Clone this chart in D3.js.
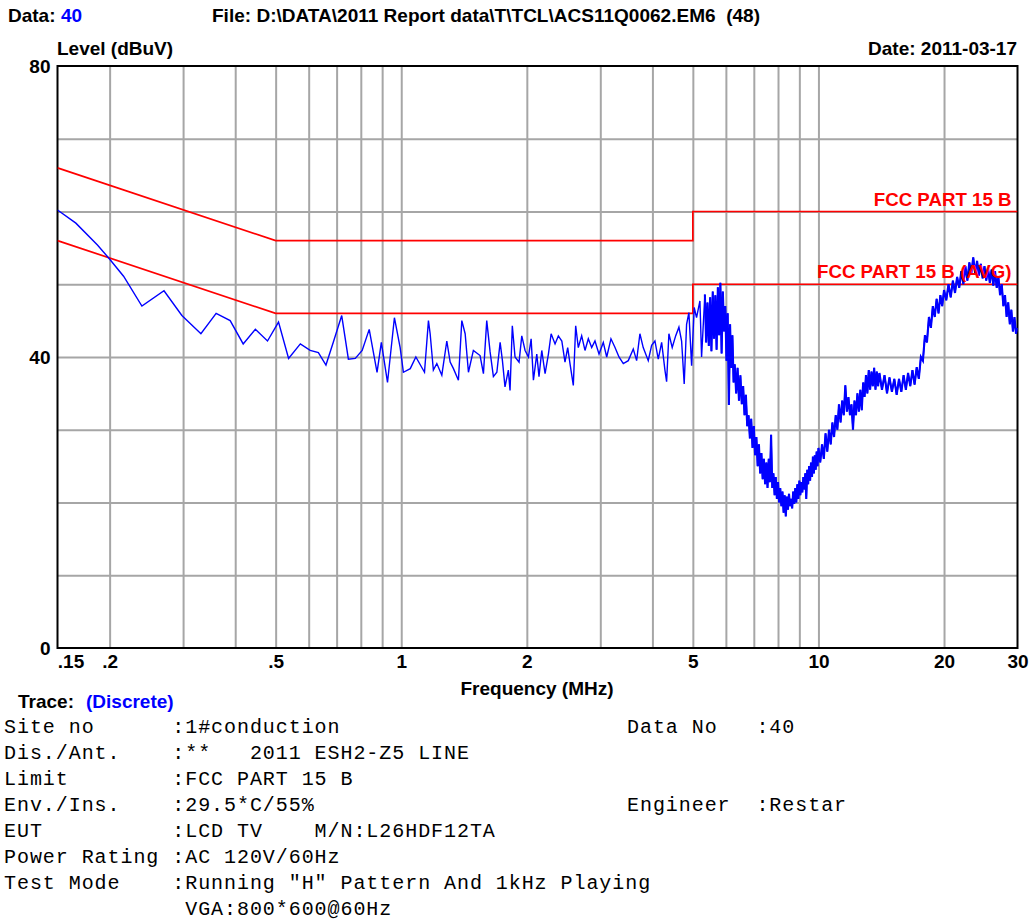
<!DOCTYPE html>
<html>
<head>
<meta charset="utf-8">
<script src="https://cdn.jsdelivr.net/npm/d3@7"></script>
<style>
  html, body { margin: 0; padding: 0; background: #fff; }
  svg text { font-family: "Liberation Sans", Arial, sans-serif; white-space: pre; }
  .mono { font-family: "Liberation Mono", "Courier New", monospace; white-space: pre; }
</style>
</head>
<body>
<svg id="chart" width="1035" height="921"></svg>
<script>
// ---------------- data ----------------
const xDomain = [0.15, 30];
const yDomain = [0, 80];
const xGridValues = [0.2, 0.3, 0.4, 0.5, 0.6, 0.7, 0.8, 0.9, 1, 2, 3, 4, 5, 6, 7, 8, 9, 10, 20];
const yGridValues = [10, 20, 30, 40, 50, 60, 70];
const xTickValues = [0.15, 0.2, 0.5, 1, 2, 5, 10, 20, 30];
const xTickLabels = [".15", ".2", ".5", "1", "2", "5", "10", "20", "30"];
const yTickValues = [0, 40, 80];
const yTickLabels = ["0", "40", "80"];

const limitQP = [[0.15, 66], [0.5, 56], [5, 56], [5, 60], [30, 60]];
const limitAV = [[0.15, 56], [0.5, 46], [5, 46], [5, 50], [30, 50]];
const limitLabels = [
  { text: "FCC PART 15 B", freq: 30, level: 60 },
  { text: "FCC PART 15 B (AVG)", freq: 30, level: 50 }
];

// measured trace [MHz, dBuV]
const traceLow = [
  [0.150,60.2],[0.166,58.4],[0.187,55.4],[0.199,53.6],[0.216,51.1],[0.239,47.0],[0.270,49.1],
  [0.298,45.7],[0.331,43.2],[0.360,46.0],[0.389,45.0],[0.418,41.8],[0.447,43.8],[0.478,42.2],
  [0.508,44.8],[0.537,39.8],[0.573,41.8],[0.605,40.9],[0.633,40.6],[0.660,38.9],[0.687,42.0],
  [0.720,45.7],[0.747,39.7],[0.776,39.8],[0.806,40.9],[0.838,43.8],[0.875,37.9],[0.896,42.0],
  [0.927,36.5],[0.963,45.4],[0.994,41.3]
];
const traceMid = [
  [1.012,37.9],[1.051,38.4],[1.084,40.0],[1.137,37.9],[1.162,45.0],[1.173,43.2],[1.194,38.2],
  [1.217,39.1],[1.251,37.5],[1.286,42.2],[1.310,39.3],[1.334,38.4],[1.371,36.8],[1.397,45.0],
  [1.423,43.2],[1.449,37.9],[1.489,40.9],[1.545,40.2],[1.574,37.7],[1.603,45.0],[1.633,40.7],
  [1.663,37.3],[1.695,37.9],[1.726,42.0],[1.748,39.5],[1.773,35.9],[1.806,38.2],[1.823,35.4],
  [1.846,44.3],[1.874,40.0],[1.916,39.3],[1.945,42.9],[1.981,40.9],[2.018,40.0],[2.048,42.5],
  [2.074,36.8],[2.113,40.4],[2.139,37.3],[2.172,40.9],[2.212,37.7],[2.253,40.4],[2.287,43.2],
  [2.337,41.8],[2.380,42.9],[2.426,42.2],[2.469,39.3],[2.506,41.3],[2.538,39.1],[2.585,36.1],
  [2.619,44.3],[2.657,41.3],[2.707,42.9],[2.757,40.9],[2.808,42.5],[2.861,41.3],[2.913,42.2],
  [2.979,40.4],[3.050,42.0],[3.108,40.0],[3.182,42.5],[3.254,41.3],[3.326,40.0],[3.406,39.1],
  [3.501,39.5],[3.599,41.1],[3.666,39.5],[3.733,43.2],[3.802,41.3],[3.909,39.5],[3.983,41.6],
  [4.056,42.2],[4.131,39.7],[4.209,42.0],[4.286,38.2],[4.326,36.6],[4.381,43.2],[4.462,41.3],
  [4.547,42.9],[4.630,44.1],[4.699,42.2],[4.767,36.3],[4.830,44.5],[4.892,46.1],[4.966,38.8],
  [5.037,46.8],[5.103,45.4],[5.199,47.7],[5.247,40.0],[5.343,48.6]
];
const traceHigh = [
  [5.38,42.0],[5.42,47.5],[5.46,41.5],[5.50,48.2],[5.54,40.8],[5.58,49.0],[5.62,42.5],[5.66,48.5],
  [5.70,41.0],[5.74,49.6],[5.78,43.0],[5.82,50.2],[5.86,40.5],[5.90,49.0],[5.94,43.5],[5.98,47.0],
  [6.02,39.5],[6.06,46.0],[6.10,33.4],[6.14,44.5],[6.18,38.5],[6.22,43.0],[6.26,36.5],[6.30,39.0],
  [6.35,35.0],[6.40,38.5],[6.45,34.0],[6.50,37.5],[6.55,33.5],[6.60,36.0],[6.65,32.0],[6.70,34.8],
  [6.75,30.5],[6.80,32.0],[6.85,28.8],[6.90,31.5],[6.95,27.5],[7.00,30.5],[7.05,26.5],[7.10,29.0],
  [7.15,25.0],[7.20,28.0],[7.25,24.0],[7.30,26.8],[7.35,23.2],[7.40,26.0],[7.45,22.5],[7.50,25.5],
  [7.55,22.0],[7.60,26.0],[7.65,22.8],[7.70,29.3],[7.75,22.0],[7.80,24.0],[7.85,21.0],[7.90,23.5],
  [7.95,20.5],[8.00,22.8],[8.05,20.0],[8.10,22.0],[8.15,19.5],[8.20,21.5],[8.25,18.6],[8.30,21.0],
  [8.35,18.1],[8.40,20.8],[8.45,19.0],[8.50,21.2],[8.55,19.5],[8.60,20.5],[8.65,19.2],[8.70,21.5],
  [8.75,19.8],[8.80,22.0],[8.85,20.0],[8.90,22.5],[8.95,20.5],[9.00,23.0],[9.05,21.0],[9.10,22.8],
  [9.15,21.4],[9.20,23.5],[9.25,21.8],[9.30,24.0],[9.35,20.5],[9.40,24.5],[9.45,22.5],[9.50,25.0],
  [9.55,23.0],[9.60,25.5],[9.65,23.5],[9.70,26.3],[9.75,24.0],[9.80,26.5],[9.85,24.5],[9.90,27.0],
  [9.95,25.0],[10.0,27.5],[10.1,25.5],[10.2,28.0],[10.3,26.0],[10.4,29.5],[10.5,27.0],[10.6,30.0],
  [10.7,28.0],[10.8,31.0],[10.9,29.0],[11.0,32.0],[11.1,30.0],[11.2,33.5],[11.3,31.0],[11.4,34.0],
  [11.5,32.0],[11.6,36.1],[11.7,32.5],[11.8,34.5],[11.9,32.0],[12.0,33.5],[12.1,30.0],[12.2,34.0],
  [12.3,32.0],[12.4,35.0],[12.5,32.5],[12.6,35.5],[12.7,32.7],[12.8,36.5],[12.9,34.5],[13.0,37.5],
  [13.1,35.0],[13.2,38.2],[13.3,35.5],[13.4,38.0],[13.5,36.0],[13.6,38.5],[13.7,35.5],[13.8,38.0],
  [13.9,36.0],[14.0,37.8],[14.2,35.5],[14.4,37.5],[14.6,35.0],[14.8,37.2],[15.0,35.2],[15.2,37.0],
  [15.4,34.8],[15.6,37.0],[15.8,35.2],[16.0,37.5],[16.2,35.5],[16.4,37.8],[16.6,36.0],[16.8,38.2],
  [17.0,36.2],[17.2,38.6],[17.4,37.0],[17.6,40.0],[17.8,39.5],[18.0,43.0],[18.2,42.0],[18.4,45.5],
  [18.6,44.0],[18.8,47.0],[19.0,45.5],[19.2,48.0],[19.4,46.0],[19.6,48.5],[19.8,47.0],[20.0,49.2],
  [20.25,47.8],[20.5,50.0],[20.75,48.2],[21.0,50.5],[21.25,48.8],[21.5,51.0],[21.75,49.5],[22.0,51.8],
  [22.25,50.0],[22.5,52.5],[22.75,50.5],[23.0,53.0],[23.25,51.5],[23.5,53.7],[23.75,51.5],[24.0,53.2],
  [24.25,51.2],[24.5,52.8],[24.75,50.8],[25.0,52.5],[25.25,50.5],[25.5,52.2],[25.75,50.2],[26.0,52.0],
  [26.25,49.8],[26.5,51.8],[26.75,49.5],[27.0,51.0],[27.25,48.5],[27.5,50.0],[27.75,47.0],[28.0,48.5],
  [28.25,45.5],[28.5,47.5],[28.75,44.5],[29.0,46.5],[29.25,43.5],[29.5,45.5],[29.75,43.2],[30.0,44.0]
];

const headerData = "40";
const headerFile = "File: D:\\DATA\\2011 Report data\\T\\TCL\\ACS11Q0062.EM6  (48)";
const headerDate = "Date: 2011-03-17";
const yAxisTitle = "Level (dBuV)";
const xAxisTitle = "Frequency (MHz)";
const traceName = "(Discrete)";
const infoLines = [
  "Site no      :1#conduction",
  "Dis./Ant.    :**   2011 ESH2-Z5 LINE",
  "Limit        :FCC PART 15 B",
  "Env./Ins.    :29.5*C/55%",
  "EUT          :LCD TV    M/N:L26HDF12TA",
  "Power Rating :AC 120V/60Hz",
  "Test Mode    :Running \"H\" Pattern And 1kHz Playing",
  "              VGA:800*600@60Hz"
];
const infoRight = [
  { row: 0, text: "Data No   :40" },
  { row: 3, text: "Engineer  :Restar" }
];

// ---------------- drawing ----------------
const FS = 19;
const svg = d3.select("#chart");
const L = 57.5, R = 1017.5, T = 66, B = 648;
const x = d3.scaleLog().domain(xDomain).range([L, R]);
const y = d3.scaleLinear().domain(yDomain).range([B, T]);

svg.append("rect").attr("width", 1035).attr("height", 921).attr("fill", "#fff");

// grid
const gx = svg.append("g").attr("transform", `translate(0,${B})`)
  .call(d3.axisBottom(x).tickValues(xGridValues).tickSize(-(B - T)).tickFormat(""));
gx.select(".domain").remove();
gx.selectAll("line").attr("stroke", "#a6a6a6").attr("stroke-width", 2);

const gy = svg.append("g").attr("transform", `translate(${L},0)`)
  .call(d3.axisLeft(y).tickValues(yGridValues).tickSize(-(R - L)).tickFormat(""));
gy.select(".domain").remove();
gy.selectAll("line").attr("stroke", "#a6a6a6").attr("stroke-width", 2);

// frame
svg.append("rect").attr("x", L).attr("y", T).attr("width", R - L).attr("height", B - T)
  .attr("fill", "none").attr("stroke", "#000").attr("stroke-width", 2);

// axis labels
const ax = svg.append("g").attr("transform", `translate(0,${B})`)
  .call(d3.axisBottom(x).tickValues(xTickValues).tickFormat((d, i) => xTickLabels[i]).tickSize(0).tickPadding(7));
ax.select(".domain").remove();
ax.selectAll("text").attr("font-size", FS).attr("font-weight", "bold")
  .attr("font-family", "Liberation Sans, Arial, sans-serif").attr("fill", "#000")
  .attr("dy", "0.71em")
  .attr("dx", (d, i) => i === 0 ? 13 : 0);

const ay = svg.append("g").attr("transform", `translate(${L},0)`)
  .call(d3.axisLeft(y).tickValues(yTickValues).tickFormat((d, i) => yTickLabels[i]).tickSize(0).tickPadding(7));
ay.select(".domain").remove();
ay.selectAll("text").attr("font-size", FS).attr("font-weight", "bold")
  .attr("font-family", "Liberation Sans, Arial, sans-serif").attr("fill", "#000");

// clip
svg.append("clipPath").attr("id", "plotclip").append("rect")
  .attr("x", L).attr("y", T - 1).attr("width", R - L).attr("height", B - T + 2);

const line = d3.line().x(d => x(d[0])).y(d => y(d[1]));

const plot = svg.append("g").attr("clip-path", "url(#plotclip)");
[limitQP, limitAV].forEach(lim => {
  plot.append("path").datum(lim).attr("d", line)
    .attr("fill", "none").attr("stroke", "#ff0000").attr("stroke-width", 1.7);
});

// limit labels
limitLabels.forEach(l => {
  svg.append("text").attr("x", x(l.freq) - 6).attr("y", y(l.level) - 6)
    .attr("text-anchor", "end").attr("font-size", 18.7).attr("font-weight", "bold")
    .attr("fill", "#ff0000").text(l.text);
});

// trace
const traceAll = traceLow.concat(traceMid, traceHigh);
plot.append("path").datum(traceAll).attr("d", line)
  .attr("fill", "none").attr("stroke", "#0000ff").attr("stroke-width", 1.4);
plot.append("path").datum([traceMid[traceMid.length - 1]].concat(traceHigh)).attr("d", line)
  .attr("fill", "none").attr("stroke", "#0000ff").attr("stroke-width", 2.1);

// header texts
function boldText(xp, yp, txt, fill, anchor) {
  return svg.append("text").attr("x", xp).attr("y", yp).attr("font-size", FS)
    .attr("font-weight", "bold").attr("fill", fill || "#000")
    .attr("text-anchor", anchor || "start").text(txt);
}
boldText(8, 22, "Data:");
boldText(61, 22, headerData, "#0000ff");
boldText(212, 22, headerFile).attr("textLength", 548).attr("lengthAdjust", "spacingAndGlyphs");
boldText(57, 55, yAxisTitle);
boldText(1017, 55, headerDate, "#000", "end");
boldText(537, 695, xAxisTitle, "#000", "middle");
boldText(18, 708, "Trace:");
boldText(86, 708, traceName, "#0000ff");

// info block
const info = svg.append("g");
infoLines.forEach((t, i) => {
  info.append("text").attr("class", "mono").attr("x", 4).attr("y", 733 + i * 26)
    .attr("font-size", 20).attr("letter-spacing", 0.94).attr("fill", "#000").text(t);
});
infoRight.forEach(r => {
  info.append("text").attr("class", "mono").attr("x", 627).attr("y", 733 + r.row * 26)
    .attr("font-size", 20).attr("letter-spacing", 0.94).attr("fill", "#000").text(r.text);
});
</script>
</body>
</html>
